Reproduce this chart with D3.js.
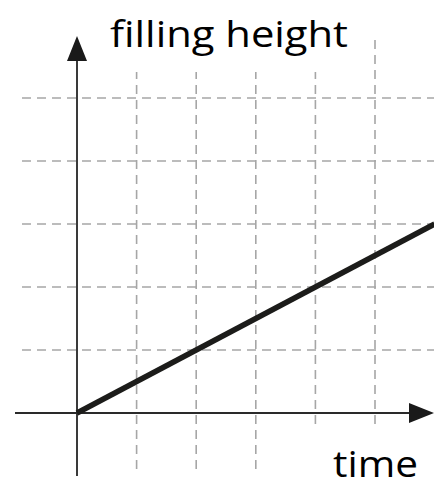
<!DOCTYPE html>
<html>
<head>
<meta charset="utf-8">
<script src="https://cdn.jsdelivr.net/npm/d3@7"></script>
<style>
  body { margin: 0; background: #fff; }
  text { font-variant-ligatures: none; }
</style>
</head>
<body>
<div id="chart"></div>
<script>
// grid positions (in chart units)
var xGrid = [1, 2, 3, 4, 5];
var yGrid = [1, 2, 3, 4, 5];
// the filling line: time -> height
var times = [0, 6];
var heights = [0, 3];
var xLabel = 'time';
var yLabel = 'filling height';

var width = 434, height = 481;

var svg = d3.select('#chart')
  .append('svg')
  .attr('width', width)
  .attr('height', height);

var x = d3.scaleLinear().domain([0, 6]).range([77, 434.6]);
var y = d3.scaleLinear().domain([0, 5]).range([413, 98]);

var grid = svg.append('g')
  .attr('stroke', '#a6a6a6')
  .attr('stroke-width', 1.6)
  .attr('stroke-dasharray', '9,6');

// horizontal dashed lines
grid.selectAll('line.h')
  .data(yGrid).enter()
  .append('line')
  .attr('class', 'h')
  .attr('x1', 22).attr('x2', width)
  .attr('y1', function(d) { return y(d); })
  .attr('y2', function(d) { return y(d); });

// vertical dashed lines
grid.selectAll('line.v')
  .data(xGrid).enter()
  .append('line')
  .attr('class', 'v')
  .attr('x1', function(d) { return x(d); })
  .attr('x2', function(d) { return x(d); })
  .attr('y1', 40).attr('y2', 472);

// label backgrounds hide the grid behind the text
svg.append('rect').attr('x', 100).attr('y', 0).attr('width', 260).attr('height', 72).attr('fill', '#fff');
svg.append('rect').attr('x', 300).attr('y', 424).attr('width', 134).attr('height', 57).attr('fill', '#fff');

// axes
svg.append('line')
  .attr('x1', x(0)).attr('x2', x(0))
  .attr('y1', 58).attr('y2', 476)
  .attr('stroke', '#3a3a3a').attr('stroke-width', 2);
svg.append('path')
  .attr('d', 'M' + (x(0) - 10) + ',61 L' + x(0) + ',36 L' + (x(0) + 10) + ',61 Z')
  .attr('fill', '#1a1a1a');

svg.append('line')
  .attr('x1', 15).attr('x2', 412)
  .attr('y1', y(0)).attr('y2', y(0))
  .attr('stroke', '#2a2a2a').attr('stroke-width', 2);
svg.append('path')
  .attr('d', 'M409,' + (y(0) - 10) + ' L434,' + y(0) + ' L409,' + (y(0) + 10) + ' Z')
  .attr('fill', '#1a1a1a');

// the line
var line = d3.line()
  .x(function(d, i) { return x(times[i]); })
  .y(function(d) { return y(d); });

svg.append('path')
  .datum(heights)
  .attr('d', line)
  .attr('fill', 'none')
  .attr('stroke', '#1c1c1a')
  .attr('stroke-width', 5.5);

// labels
svg.append('text')
  .attr('x', 110).attr('y', 47)
  .attr('font-family', '"Open Sans", sans-serif')
  .attr('font-size', 37)
  .attr('textLength', 238)
  .attr('lengthAdjust', 'spacingAndGlyphs')
  .attr('fill', '#000')
  .text(yLabel);

svg.append('text')
  .attr('x', 333).attr('y', 477)
  .attr('font-family', '"Open Sans", sans-serif')
  .attr('font-size', 37)
  .attr('textLength', 85)
  .attr('lengthAdjust', 'spacingAndGlyphs')
  .attr('fill', '#000')
  .text(xLabel);
</script>
</body>
</html>
